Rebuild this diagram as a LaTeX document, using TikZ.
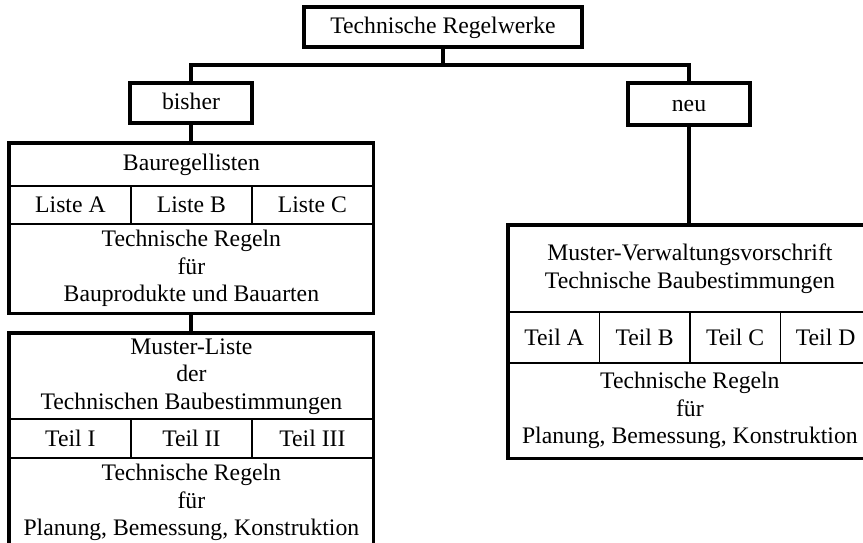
\documentclass[tikz,border=0pt]{standalone}
\usepackage{fontspec}
\setmainfont{Liberation Serif}
\usetikzlibrary{positioning}

\begin{document}
\begin{tikzpicture}[
    x=1pt, y=-1pt,
    every node/.style={font=\fontsize{23.7}{27.5}\selectfont, align=center, inner sep=1pt},
    box/.style={draw, line width=3.2pt, minimum width=122pt, minimum height=40pt, text height=18pt, text depth=4pt},
    cell/.style={draw, line width=1.8pt, anchor=north west},
    frame/.style={draw, line width=3.2pt},
    link/.style={line width=3.2pt}
]
\clip (0,0) rectangle (863,543);

% Kopf
\node[box, minimum width=278pt] (regelwerke) at (443,27) {Technische Regelwerke};
\node[box] (bisher) at (191,103) {bisher};
\node[box, minimum height=42pt] (neu) at (689,104) {neu};
\coordinate (split) at (443,65);

% bisher: Bauregellisten
\node[cell, minimum width=363pt, minimum height=42pt] (bau) at (9,143) {Bauregellisten};
\foreach \t/\i in {A/0,B/1,C/2}
    \node[cell, minimum width=121pt, minimum height=38pt] (liste\t) at (9+121*\i,185) {Liste \t};
\node[cell, minimum width=363pt, minimum height=89pt] (regA) at (9,223) {Technische Regeln\\für\\Bauprodukte und Bauarten};
\draw[frame] (bau.north west) rectangle (regA.south east);

% bisher: Muster-Liste
\node[cell, minimum width=363pt, minimum height=85pt] (mlist) at (9,333) {Muster-Liste\\der\\Technischen Baubestimmungen};
\foreach \t/\i in {I/0,II/1,III/2}
    \node[cell, minimum width=121pt, minimum height=39pt] (teil\t) at (9+121*\i,418) {Teil \t};
\node[cell, minimum width=363pt, minimum height=89pt] (regB) at (9,457) {Technische Regeln\\für\\Planung, Bemessung, Konstruktion};
\draw[frame] (mlist.north west) rectangle (regB.south east);

% neu: MVV TB
\node[cell, minimum width=362pt, minimum height=86pt] (mvv) at (508,225) {Muster-Verwaltungsvorschrift\\Technische Baubestimmungen};
\foreach \t/\i in {A/0,B/1,C/2,D/3}
    \node[cell, minimum width=90.5pt, minimum height=51pt] (teil\t) at (508+90.5*\i,311) {Teil \t};
\node[cell, minimum width=362pt, minimum height=95pt] (regC) at (508,362) {Technische Regeln\\für\\Planung, Bemessung, Konstruktion};
\draw[frame] (mvv.north west) rectangle (regC.south east);

% Verbindungen
\draw[link] (regelwerke) -- (split);
\draw[link] (bisher.north) |- (split) -| (neu.north);
\draw[link] (bisher) -- (bau.north -| bisher);
\draw[link] (regA.south -| bisher) -- (mlist.north -| bisher);
\draw[link] (neu) -- (mvv.north -| neu);
\end{tikzpicture}
\end{document}
